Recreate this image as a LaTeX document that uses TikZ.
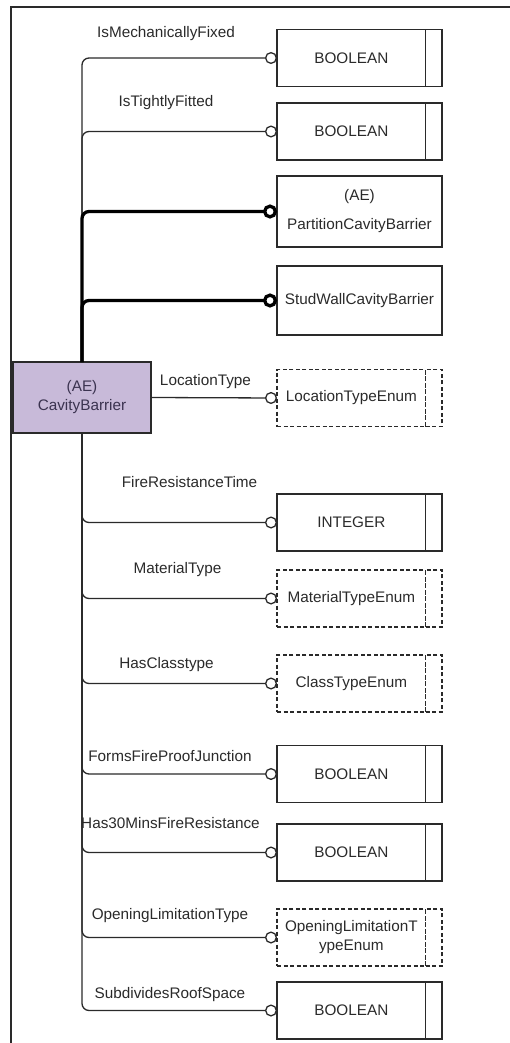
\documentclass[tikz,border=0pt]{standalone}
\usepackage{fontspec}
\setmainfont{Liberation Sans}
\usetikzlibrary{arrows.meta,positioning}
\definecolor{entfill}{HTML}{C8BAD9}
\definecolor{enttext}{HTML}{3B3350}
\definecolor{ink}{HTML}{2A2A2A}

\begin{document}
\begin{tikzpicture}[x=1pt,y=-1pt,
        every node/.style={font=\fontsize{15.3}{19}\selectfont,text=ink},
        typebox/.style={draw=ink,line width=1.3pt,outer sep=0pt,minimum width=148.7pt,minimum height=57pt,inner sep=2pt},
        cellbox/.style={draw=ink,line width=1.3pt,outer sep=0pt,minimum width=16.3pt,minimum height=57pt,inner sep=0pt},
        enumbox/.style={typebox,dash pattern=on 4pt off 2.5pt},
        enumcell/.style={cellbox,dash pattern=on 4pt off 2.5pt},
        entbox/.style={draw=ink,line width=1.3pt,outer sep=0pt,minimum width=165pt,align=center,inner sep=2pt},
        role/.style={anchor=base},
        attr/.style={draw=ink,line width=1.3pt,rounded corners=7pt,-{Circle[open,length=12pt,width=12pt]}},
        heavy/.style={attr,draw=black,line width=3.3pt,-{Circle[open,length=14pt,width=14pt]}}]
            \path[use as bounding box] (0,0) rectangle (510,1043);
            \draw[ink,line width=1.3pt] (11,1043) -- (11,7) -- (510,7);

            \node[entbox,fill=entfill,minimum width=138pt,minimum height=71pt,text=enttext] (cb) at (82,397.5) {(AE)\\CavityBarrier};
            \node[entbox,minimum height=71pt] (pcb) at (359.5,211.5) {(AE)\\[10pt]PartitionCavityBarrier};
            \node[entbox,minimum height=69pt] (swcb) at (359.5,300.5) {StudWallCavityBarrier};

            \foreach \n/\y/\t in {mf/58/BOOLEAN,tf/131.5/BOOLEAN,frt/522.5/INTEGER,
                                  ffj/774/BOOLEAN,hfr/852.5/BOOLEAN,srs/1010.5/BOOLEAN} {
                \node[typebox] (\n) at (351.35,\y) {\t};
                \node[cellbox,right=0pt of \n] (\n c) {};
            }
            \foreach \n/\y/\t in {lt/398/LocationTypeEnum,mt/598.5/MaterialTypeEnum,
                                  ct/683.5/ClassTypeEnum,olt/937.5/{OpeningLimitationT\\ypeEnum}} {
                \node[enumbox,align=center] (\n) at (351.35,\y) {\t};
                \node[enumcell,right=0pt of \n] (\n c) {};
            }

            \node[role] (lmf) at (166,38) {IsMechanicallyFixed};
            \node[role] (ltf) at (166,107) {IsTightlyFitted};
            \node[role] (llt) at (205.5,385) {LocationType};
            \node[role] (lfrt) at (189.5,487) {FireResistanceTime};
            \node[role] (lmt) at (177.5,573) {MaterialType};
            \node[role] (lct) at (166.5,668) {HasClasstype};
            \node[role] (lffj) at (170,761) {FormsFireProofJunction};
            \node[role] (lhfr) at (170.5,828) {Has30MinsFireResistance};
            \node[role] (lolt) at (170,919) {OpeningLimitationType};
            \node[role] (lsrs) at (170,998) {SubdividesRoofSpace};

            \foreach \n in {mf,tf}
                \draw[attr] (cb.north) |- (\n.west);
            \foreach \n in {pcb,swcb}
                \draw[heavy] (cb.north) |- (\n.west);
            \draw[attr] (cb.east) -- (lt.west);
            \foreach \n in {frt,mt,ct,ffj,hfr,olt,srs}
                \draw[attr] (cb.south) |- (\n.west);
        \end{tikzpicture}
\end{document}
